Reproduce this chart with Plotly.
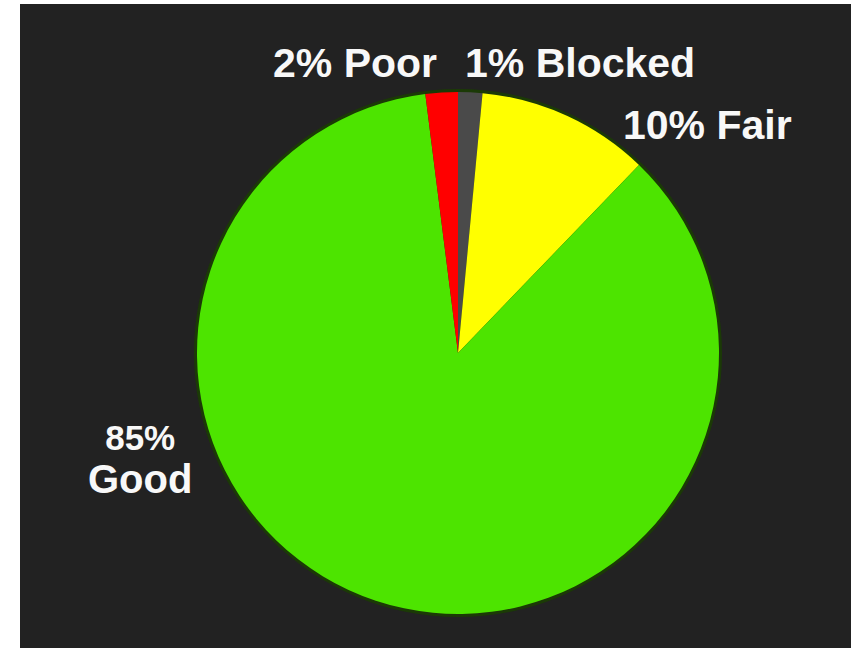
import plotly.graph_objects as go

# ---- data ----
labels = ["Blocked", "Fair", "Good", "Poor"]
values = [1.5, 10.7, 85.8, 2.0]          # slice sizes estimated from the drawn angles
shown_pct = [1, 10, 85, 2]               # percentages printed on the chart
colors = ["#4a4a4a", "#ffff00", "#4de400", "#ff0000"]

W, H = 851, 648
cx, cy, r = 458, 353, 261


def px(x):
    return x / W


def py(y):
    return 1 - y / H


fig = go.Figure()
fig.add_trace(go.Pie(
    labels=labels,
    values=values,
    sort=False,
    direction="clockwise",
    rotation=0,
    marker=dict(colors=colors, line=dict(width=0)),
    textinfo="none",
    hoverinfo="label+percent",
    showlegend=False,
    domain=dict(x=[px(cx - r), px(cx + r)], y=[py(cy + r), py(cy - r)]),
))

lab = dict(zip(labels, shown_pct))
FONT = "Liberation Sans, Arial, sans-serif"


def ann(text, x, y, size):
    return dict(
        text=text, x=px(x), y=py(y), xref="paper", yref="paper",
        xanchor="center", yanchor="middle", showarrow=False,
        font=dict(family=FONT, size=size, color="#f8f8f8", weight="bold"),
    )


annotations = [
    ann(f"{lab['Poor']}% Poor", 355, 63, 41),
    ann(f"{lab['Blocked']}% Blocked", 580, 63, 41),
    ann(f"{lab['Fair']}% Fair", 707, 125, 41),
    ann(f"<span style='font-size:35px'>{lab['Good']}%</span><br>"
        f"<span style='font-size:40px'>Good</span>", 140, 459, 33),
]

shapes = [
    # dark panel (white strip on the left and top)
    dict(type="rect", xref="paper", yref="paper", x0=px(20), x1=1, y0=0, y1=py(4),
         fillcolor="#222222", line=dict(width=0), layer="below"),
    # dark-green rim around the pie
    dict(type="circle", xref="paper", yref="paper",
         x0=px(cx - r - 3), x1=px(cx + r + 3), y0=py(cy + r + 3), y1=py(cy - r - 3),
         fillcolor="#1b3a06", line=dict(width=0), layer="below"),
]

fig.update_layout(
    width=W, height=H,
    margin=dict(l=0, r=0, t=0, b=0),
    paper_bgcolor="#ffffff",
    plot_bgcolor="#222222",
    annotations=annotations,
    shapes=shapes,
)

fig.write_html("out.html", config={"displayModeBar": False},
               post_script="document.body.style.margin='0px';")
